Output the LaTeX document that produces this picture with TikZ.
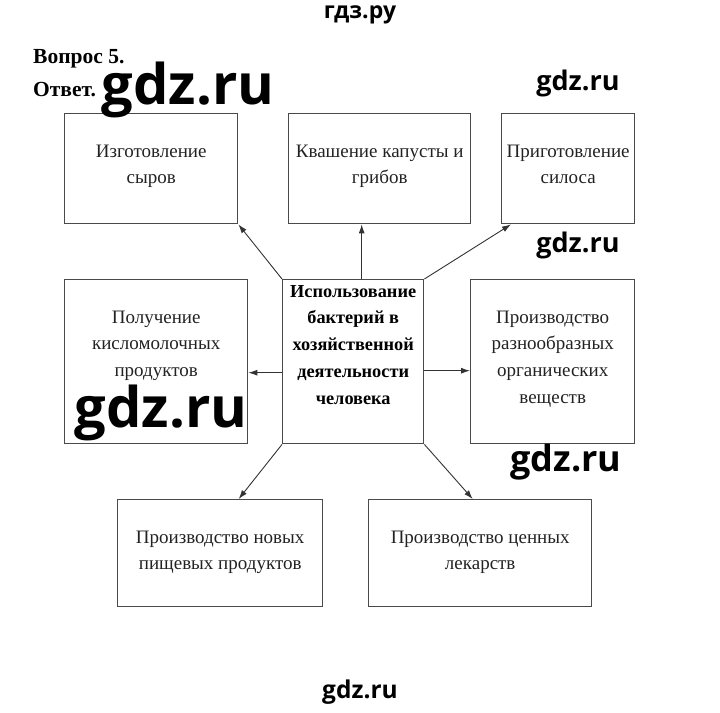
\documentclass[tikz,border=0pt]{standalone}
\usepackage{fontspec}
\setmainfont{Liberation Serif}
\newfontfamily\wmfont{Open Sans}
\usetikzlibrary{calc,arrows.meta}
\definecolor{boxgray}{HTML}{4A4A4A}
\definecolor{arrgray}{HTML}{333333}
\definecolor{txtgray}{HTML}{222222}
\begin{document}
\begin{tikzpicture}[x=1pt,y=-1pt,
  box/.style={draw=boxgray, line width=1.4pt, anchor=north west, inner sep=0pt},
  txt/.style={anchor=north, inner sep=0pt, align=center, text=txtgray, font=\fontsize{19}{26.7}\selectfont},
  ctxt/.style={txt, text=black, font=\fontsize{18.3}{26.7}\selectfont\bfseries},
  head/.style={anchor=base west, inner sep=0pt, font=\fontsize{21.5}{24}\selectfont\bfseries},
  arr/.style={draw=arrgray, line width=0.9pt, -{Latex[length=9pt,width=6pt]}},
  wm/.style={anchor=base, inner sep=0pt, text=black}]
\useasboundingbox (0,0) rectangle (720,712);

% boxes
\node[box, minimum width=173pt, minimum height=110pt] (b1) at (64,113) {};
\node[box, minimum width=182pt, minimum height=110pt] (b2) at (288,113) {};
\node[box, minimum width=133pt, minimum height=110pt] (b3) at (501,113) {};
\node[box, minimum width=183pt, minimum height=164pt] (b4) at (64,279) {};
\node[box, minimum width=141pt, minimum height=164pt] (c) at (282,279) {};
\node[box, minimum width=164pt, minimum height=164pt] (b6) at (470,279) {};
\node[box, minimum width=205pt, minimum height=107pt] (b7) at (117,499) {};
\node[box, minimum width=223pt, minimum height=107pt] (b8) at (368,499) {};

% texts
\node[txt] (t1) at ($(b1.north)+(0,30)$) {\rule{0pt}{14pt}Изготовление\\сыров};
\node[txt] (t2) at ($(b2.north)+(0,30)$) {\rule{0pt}{14pt}Квашение капусты и\\грибов};
\node[txt] (t3) at ($(b3.north)+(0,30)$) {\rule{0pt}{14pt}Приготовление\\силоса};
\node[txt] (t4) at ($(b4.north)+(0,30)$) {\rule{0pt}{14pt}Получение\\кисломолочных\\продуктов};
\node[ctxt] (tc) at ($(c.north)+(0,4)$) {\rule{0pt}{14pt}Использование\\бактерий в\\хозяйственной\\деятельности\\человека};
\node[txt] (t6) at ($(b6.north)+(0,30)$) {\rule{0pt}{14pt}Производство\\разнообразных\\органических\\веществ};
\node[txt] (t7) at ($(b7.north)+(0,30)$) {\rule{0pt}{14pt}Производство новых\\пищевых продуктов};
\node[txt] (t8) at ($(b8.north)+(0,30)$) {\rule{0pt}{14pt}Производство ценных\\лекарств};

% arrows
\draw[arr] (c.north west) -- (b1.south east);
\draw[arr] ($(c.north)+(8.5,0)$) -- ($(b2.south)+(-18,0)$);
\draw[arr] (c.north east) -- ($(b3.south west)+(10,0)$);
\draw[arr] ($(c.west)+(0,11)$) -- ($(b4.east)+(0,11)$);
\draw[arr] ($(c.east)+(0,9)$) -- ($(b6.west)+(0,9)$);
\draw[arr] (c.south west) -- ($(b7.north)+(18.5,0)$);
\draw[arr] (c.south east) -- ($(b8.north)+(-7.5,0)$);

% heading
\node[head] (q) at (33,63) {Вопрос 5.};
\node[head] (a) at (33,96) {Ответ.};

% watermarks
\node[wm, font=\wmfont\bfseries\fontsize{23}{23}\selectfont] (w0) at (360,18) {гдз.ру};
\node[wm, font=\wmfont\bfseries\fontsize{56}{56}\selectfont] (w1) at (188,104) {gdz.ru};
\node[wm, font=\wmfont\bfseries\fontsize{27}{27}\selectfont] (w2) at (578,90) {gdz.ru};
\node[wm, font=\wmfont\bfseries\fontsize{27}{27}\selectfont] (w3) at (578,252) {gdz.ru};
\node[wm, font=\wmfont\bfseries\fontsize{56}{56}\selectfont] (w4) at (161,427) {gdz.ru};
\node[wm, font=\wmfont\bfseries\fontsize{36}{36}\selectfont] (w5) at (566,471) {gdz.ru};
\node[wm, font=\wmfont\bfseries\fontsize{24.5}{24.5}\selectfont] (w6) at (360,698) {gdz.ru};
\end{tikzpicture}
\end{document}
